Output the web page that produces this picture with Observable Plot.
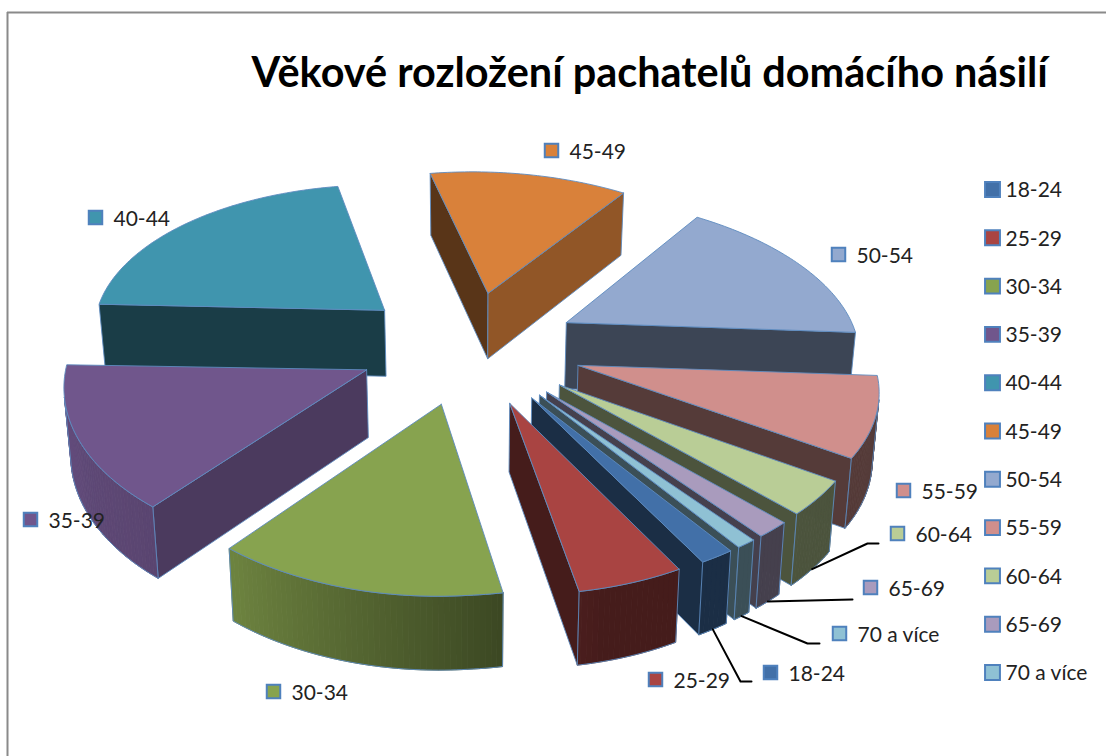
<!DOCTYPE html>
<html lang="cs">
<head>
<meta charset="utf-8">
<title>Věkové rozložení pachatelů domácího násilí</title>
<script src="https://cdn.jsdelivr.net/npm/d3@7"></script>
<script src="https://cdn.jsdelivr.net/npm/@observablehq/plot@0.6"></script>
<style>
  html, body { margin: 0; padding: 0; background: #fff; }
  svg { display: block; }
</style>
</head>
<body>
<div id="chart"></div>
<script>
// Data
const title = "Věkové rozložení pachatelů domácího násilí";
const ages = ["18-24","25-29","30-34","35-39","40-44","45-49","50-54","55-59","60-64","65-69","70 a více"];
const shares = [1.67, 5.14, 13.89, 14.17, 21.39, 12.78, 16.25, 8.47, 3.61, 1.67, 0.97];
const colors = ["#4270a8","#a94442","#87a34f","#70568c","#4095ae","#d9813a","#93a9cf","#d08f8c","#b9cd96","#a99bbd","#8fc1d4"];

// Layout of the data labels (square centre) and legend
const labelX = [770, 655, 273, 30, 95, 551, 838, 903, 897, 870, 839];
const labelY = [672, 679, 691, 519, 217, 150, 254, 490, 533, 587, 633];
const leaderElbows = {
  0: [[740, 681], [751, 681]],
  8: [[867, 543], [878, 543]],
  9: [[852, 599]],
  10: [[807, 643], [819, 643]]
};
const legendX = 992, legendTop = 189, legendStep = 48.3;

// 3D view of the pie
const startAngle = 144.5, explode = 0.38;
const view = {cx: 469, cy: 346, kx: 295, ky: 150, perspY: 0.13, perspFront: 0.10, perspBack: 0.14, tilt: 6, depth: 67, taper: 0.983};
const edge = "#5d8bc0";

const rad = d => d * Math.PI / 180;
function project(u, v, bottom) {
  const w = 1 / (1 - view.perspY * v);
  const wx = 1 / (1 - (v > 0 ? view.perspFront : view.perspBack) * v);
  const tilt = u < 0 && v > 0 ? view.tilt * Math.max(0, 1 - v) : view.tilt;
  let sx = u * wx * view.kx;
  let sy = view.cy + v * w * view.ky + tilt * u;
  if (bottom) { sx *= view.taper; sy += view.depth * Math.sqrt(w); }
  return [view.cx + sx, sy];
}
const polar = a => [Math.sin(rad(a)), -Math.cos(rad(a))];
const area = p => d3.polygonArea(p);
const rimShade = d3.scaleLinear().domain([165, 218, 268, 360]).range([0.41, 0.8, 0.9, 0.9]).clamp(true);
const wallShade = d3.scaleLinear().domain([130, 170]).range([0.67, 0.41]).clamp(true);
const shade = (c, f) => { const r = d3.rgb(c); return d3.rgb(r.r * f, r.g * f, r.b * f).formatHex(); };

const total = d3.sum(shares);
let acc = startAngle;
const slices = ages.map((age, i) => {
  const a0 = acc, a1 = acc + 360 * shares[i] / total;
  acc = a1;
  const mid = (a0 + a1) / 2;
  const [mu, mv] = polar(mid);
  return {i, age, a0, a1, mid, apex: [mu * explode, mv * explode], color: colors[i]};
});

const faces = [];
const addFace = (pts, fill, stroke) => faces.push({pts, fill, stroke});
function point(s, a, bottom) {
  const [u, v] = polar(a);
  return project(s.apex[0] + u, s.apex[1] + v, bottom);
}
function apexPoint(s, bottom) { return project(s.apex[0], s.apex[1], bottom); }

[...slices].sort((a, b) => a.apex[1] - b.apex[1]).forEach(s => {
  const angles = d3.range(s.a0, s.a1, 1).concat([s.a1]);
  // radial walls
  const w0 = [apexPoint(s), point(s, s.a0), point(s, s.a0, true), apexPoint(s, true)];
  const w1 = [point(s, s.a1), apexPoint(s), apexPoint(s, true), point(s, s.a1, true)];
  const nrm = a => ((a % 360) + 360) % 360;
  if (area(w0) > 0) addFace([...w0, w0[0]], shade(s.color, wallShade(nrm(s.a0 - 90))), edge);
  if (area(w1) > 0) addFace([...w1, w1[0]], shade(s.color, wallShade(nrm(s.a1 + 90))), edge);
  // outer rim as narrow shaded facets
  const visible = [];
  for (let k = 0; k + 1 < angles.length; ++k) {
    const q = [point(s, angles[k]), point(s, angles[k + 1]), point(s, angles[k + 1], true), point(s, angles[k], true)];
    if (area(q) > 0) {
      const c = shade(s.color, rimShade(nrm((angles[k] + angles[k + 1]) / 2)));
      addFace([...q, q[0]], c, c);
      if (!visible.length) visible.push(angles[k]);
      visible.push(angles[k + 1]);
    }
  }
  if (visible.length) {
    const top = visible.map(a => point(s, a));
    const bot = visible.map(a => point(s, a, true)).reverse();
    const ring = [...top, ...bot, top[0]];
    addFace(ring, "none", edge);
  }
  // top
  const topFace = [apexPoint(s), ...angles.map(a => point(s, a)), apexPoint(s)];
  addFace(topFace, s.color, edge);
});

const vertices = faces.flatMap((f, id) => f.pts.map(([x, y]) => ({id, x, y, fill: f.fill, stroke: f.stroke})));

const leaders = Object.entries(leaderElbows).flatMap(([k, elbows]) => {
  const s = slices[+k];
  return [point(s, s.mid, true), ...elbows].map(([x, y]) => ({k, x, y}));
});

const labels = slices.map((s, i) => ({age: s.age, color: s.color, x: labelX[i], y: labelY[i]}));
const legend = slices.map((s, i) => ({age: s.age, color: s.color, x: legendX, y: legendTop + i * legendStep}));
const font = "Lato, Carlito, Calibri, sans-serif";

const chart = Plot.plot({
  width: 1106, height: 756,
  marginTop: 0, marginRight: 0, marginBottom: 0, marginLeft: 0,
  x: {domain: [0, 1106], range: [0, 1106], axis: null},
  y: {domain: [0, 756], range: [0, 756], axis: null},
  color: {type: "identity"},
  style: {background: "#fff"},
  marks: [
    Plot.ruleY([12], {x1: 7, x2: 1106, stroke: "#8a8a8a", strokeWidth: 2}),
    Plot.ruleX([7], {y1: 12, y2: 756, stroke: "#8a8a8a", strokeWidth: 2}),
    Plot.line(vertices, {x: "x", y: "y", z: "id", fill: "fill", stroke: "stroke", strokeWidth: 0.9, curve: "linear"}),
    Plot.line(leaders, {x: "x", y: "y", z: "k", stroke: "#000", strokeWidth: 2, curve: "linear"}),
    Plot.dot(labels, {x: "x", y: "y", symbol: "square", r: 7.6, fill: "color", stroke: "#4f81bd", strokeWidth: 2}),
    Plot.text(labels, {x: d => d.x + 18, y: d => d.y + 2, text: "age", textAnchor: "start", fontSize: 21, fontFamily: font, fill: "#222"}),
    Plot.dot(legend, {x: "x", y: "y", symbol: "square", r: 8.4, fill: "color", stroke: "#4f81bd", strokeWidth: 2}),
    Plot.text(legend, {x: d => d.x + 13, y: d => d.y + 1, text: "age", textAnchor: "start", fontSize: 21, fontFamily: font, fill: "#222"}),
    Plot.text([title], {x: 251, y: 73, text: d => d, textAnchor: "start", fontSize: 41.4, fontWeight: 700, fontFamily: font, fill: "#000"})
  ]
});
document.getElementById("chart").append(chart);
</script>
</body>
</html>
